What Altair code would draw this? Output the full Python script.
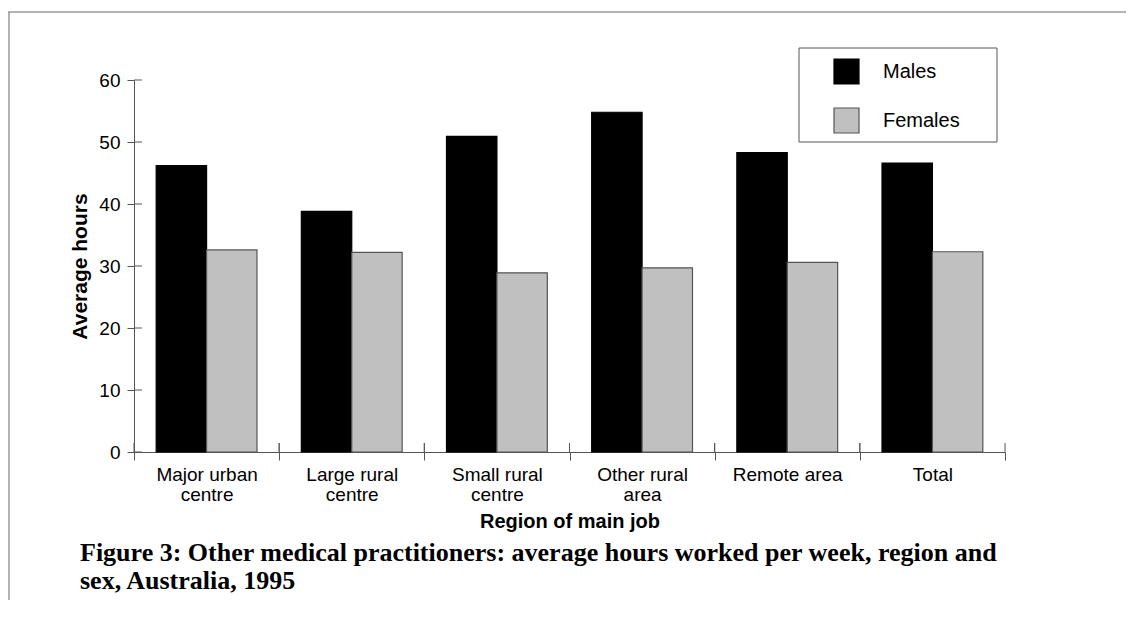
import json
import altair as alt
import pandas as pd

# ---- data ----
regions = ["Major urban centre", "Large rural centre", "Small rural centre",
           "Other rural area", "Remote area", "Total"]
region_labels = [["Major urban", "centre"], ["Large rural", "centre"], ["Small rural", "centre"],
                 ["Other rural", "area"], ["Remote area"], ["Total"]]
sexes = ["Males", "Females"]
males = [46.2, 38.8, 50.9, 54.8, 48.3, 46.6]
females = [32.6, 32.2, 28.9, 29.7, 30.6, 32.3]
y_ticks = [0, 10, 20, 30, 40, 50, 60]
title_lines = ["Figure 3: Other medical practitioners: average hours worked per week, region and",
               "sex, Australia, 1995"]

rows = []
for r, m, f in zip(regions, males, females):
    rows.append({"region": r, "sex": "Males", "hours": m})
    rows.append({"region": r, "sex": "Females", "hours": f})
df = pd.DataFrame(rows)
df_regions = pd.DataFrame({"region": regions})
df_ticks = pd.DataFrame({"t": y_ticks})
df_one = df_regions.head(1)

W, H = 871, 372
AX = "#555555"
SANS = "Liberation Sans"

label_lookup = json.dumps(dict(zip(regions, region_labels)))

x_axis = alt.Axis(labelAngle=0, tickBand="extent", tickSize=8, labelPadding=5,
                  labelFontSize=19, labelLineHeight=20, labelOverlap=False,
                  labelExpr=label_lookup + "[datum.label]",
                  titleFontSize=20, titleFontWeight="bold", titlePadding=7)
y_axis = alt.Axis(values=y_ticks, tickSize=7, labelPadding=7, labelFontSize=19,
                  titleFontSize=21, titleFontWeight="bold", titlePadding=8, grid=False)

x_scale = alt.Scale(paddingInner=0, paddingOuter=0)
y_scale = alt.Scale(domain=[0, 60], nice=False)

legend = alt.Legend(title=None, orient="none", legendX=665, legendY=-30, direction="vertical",
                    symbolType="square", symbolSize=625, symbolStrokeWidth=1.2,
                    labelFont=SANS, labelFontSize=20, labelColor="black",
                    labelOffset=23, symbolOffset=26, rowPadding=18, padding=8)

bars = alt.Chart(df).mark_bar(strokeWidth=1.2).encode(
    x=alt.X("region:N", sort=regions, scale=x_scale, axis=x_axis, title="Region of main job"),
    xOffset=alt.XOffset("sex:N", sort=sexes, scale=alt.Scale(paddingInner=0, paddingOuter=0.44)),
    y=alt.Y("hours:Q", scale=y_scale, axis=y_axis, title="Average hours"),
    color=alt.Color("sex:N", sort=sexes,
                    scale=alt.Scale(domain=sexes, range=["#000000", "#c0c0c0"]), legend=legend),
    stroke=alt.Stroke("sex:N", sort=sexes,
                      scale=alt.Scale(domain=sexes, range=["#000000", "#555555"]), legend=legend),
)

# upper halves of the crossing ticks
y_tick_up = alt.Chart(df_ticks).mark_rule(color=AX, strokeWidth=1).encode(
    y=alt.Y("t:Q", title="Average hours"), x=alt.value(0), x2=alt.value(8))
x_tick_up0 = alt.Chart(df_regions).mark_rule(color=AX, strokeWidth=1).encode(
    x=alt.X("region:N", sort=regions, bandPosition=0, title="Region of main job"),
    y=alt.value(H - 9), y2=alt.value(H))
x_tick_up1 = alt.Chart(df_regions).mark_rule(color=AX, strokeWidth=1).encode(
    x=alt.X("region:N", sort=regions, bandPosition=1, title="Region of main job"),
    y=alt.value(H - 9), y2=alt.value(H))

# legend frame box
legend_box = alt.Chart(df_one).mark_rect(fill="white", stroke=AX, strokeWidth=1).encode(
    x=alt.value(665), x2=alt.value(863), y=alt.value(-32), y2=alt.value(62))

# page frame (top and left lines)
frame_top = alt.Chart(df_one).mark_rule(color="#9a9a9a", strokeWidth=1.5).encode(
    x=alt.value(-126), x2=alt.value(992), y=alt.value(-68))
frame_left = alt.Chart(df_one).mark_rule(color="#9a9a9a", strokeWidth=1.5).encode(
    x=alt.value(-125), y=alt.value(-68), y2=alt.value(520))

chart = alt.layer(bars, y_tick_up, x_tick_up0, x_tick_up1, legend_box, frame_top, frame_left).properties(
    width=W, height=H,
    padding={"left": 126, "top": 72, "right": 121, "bottom": 150},
    autosize=alt.AutoSizeParams(type="none"),
    title=alt.TitleParams(text=title_lines, orient="bottom", anchor="start", frame="group",
                          dx=-54, dy=-40, offset=0, font="Liberation Serif", fontSize=26,
                          fontWeight="bold", color="black", lineHeight=28,
                          baseline="alphabetic"),
).configure_view(stroke=None).configure_axis(
    domainColor=AX, tickColor=AX, labelColor="black", titleColor="black",
    labelFont=SANS, titleFont=SANS, grid=False, domainWidth=1, tickWidth=1,
)

chart.save("out.html", embed_options={"renderer": "svg", "actions": False})
